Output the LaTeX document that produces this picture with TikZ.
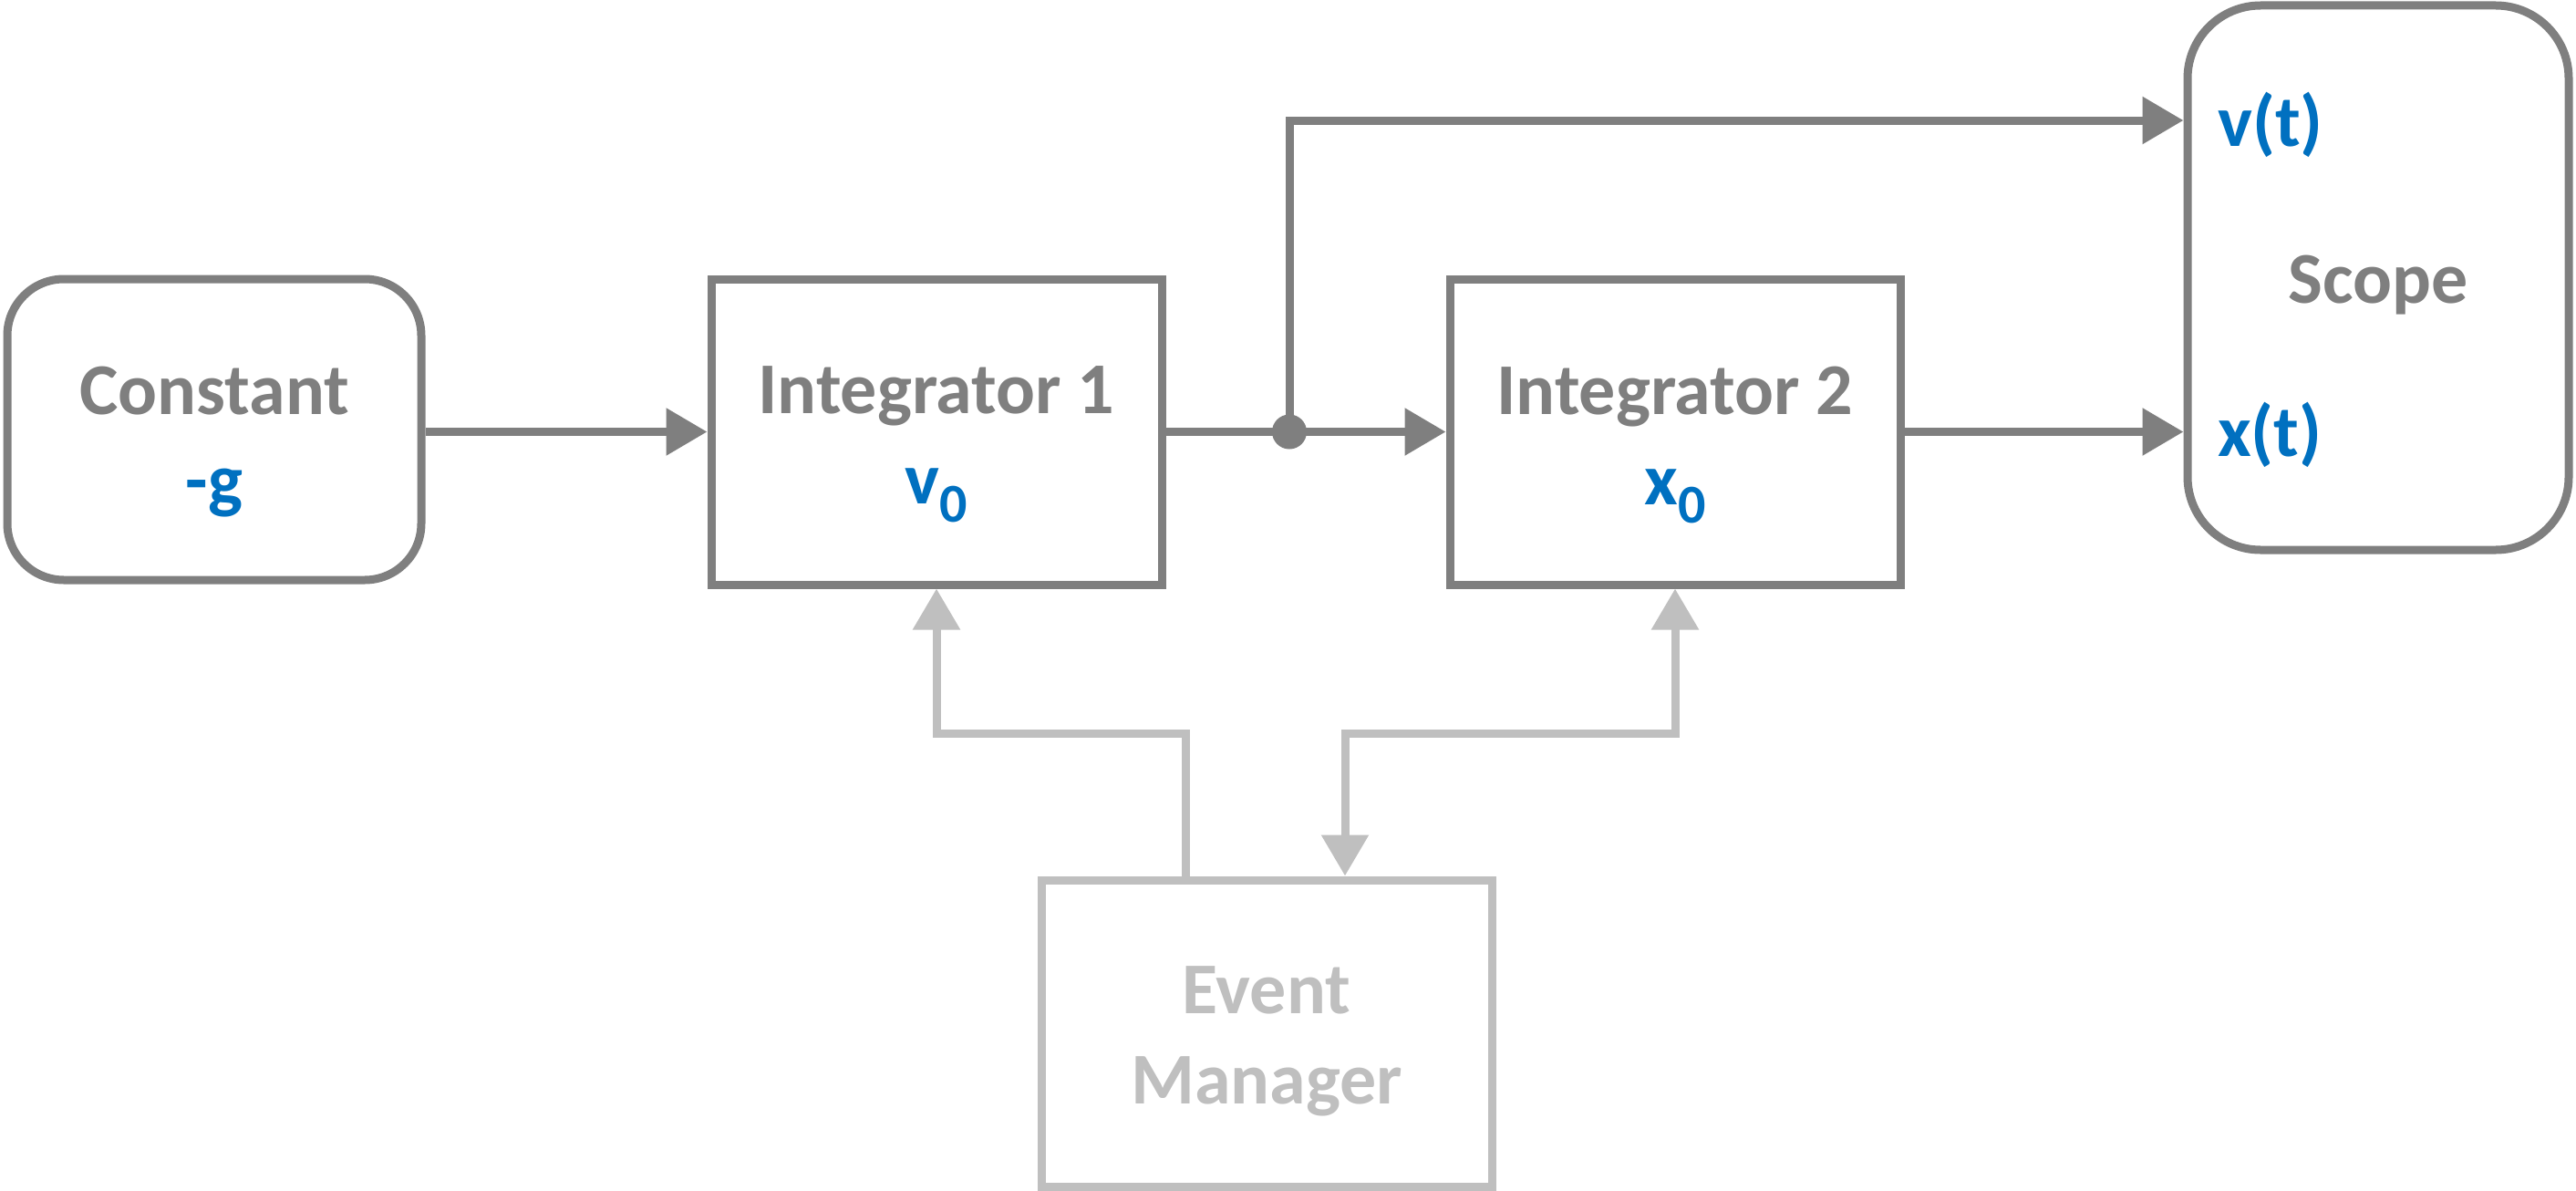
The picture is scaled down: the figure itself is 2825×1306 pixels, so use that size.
\documentclass[tikz,border=0pt]{standalone}
\usepackage{fontspec}
\setmainfont{Carlito}
\usetikzlibrary{arrows.meta}
\definecolor{dgray}{HTML}{7F7F7F}
\definecolor{lgray}{HTML}{BFBFBF}
\definecolor{valblue}{HTML}{0070C0}
\newcommand{\subz}[1]{\raisebox{-20pt}{\fontsize{60}{60}\selectfont #1}}
\begin{document}
\begin{tikzpicture}[x=1pt,y=-1pt,
  txt/.style={font=\fontsize{80}{99}\selectfont\bfseries, align=center, inner sep=0pt},
  blockbox/.style={draw=dgray, line width=9pt, rectangle, inner sep=0pt},
  roundbox/.style={blockbox, rounded corners=#1},
  conn/.style={draw=dgray, line width=9pt},
  evconn/.style={draw=lgray, line width=9pt},
  tip/.style={-{Triangle[length=45pt,width=50pt]}},
  both/.style={{Triangle[length=45pt,width=50pt]}-{Triangle[length=45pt,width=50pt]}},
  lbl/.style={font=\fontsize{80}{99}\selectfont\bfseries, text=valblue, inner sep=0pt, anchor=base west}
]
\useasboundingbox (0,0) rectangle (2825,1306);

\node[roundbox=62pt, minimum width=454pt, minimum height=330pt] (const) at (235,471) {};
\node[blockbox, minimum width=494pt, minimum height=335pt] (int1) at (1027,473.5) {};
\node[blockbox, minimum width=494pt, minimum height=335pt] (int2) at (1837,473.5) {};
\node[roundbox=80pt, minimum width=418pt, minimum height=597pt] (scope) at (2608,304.5) {};
\node[blockbox, draw=lgray, minimum width=494pt, minimum height=336pt] (em) at (1389,1133) {};

\node[txt, text=dgray] (constt) at ([yshift=-14pt]const.center) {Constant\\\textcolor{valblue}{-g}};
\node[txt, text=dgray] (int1t) at ([yshift=-14pt]int1.center) {Integrator 1\\\textcolor{valblue}{v\subz{0}}};
\node[txt, text=dgray] (int2t) at ([yshift=-14pt]int2.center) {Integrator 2\\\textcolor{valblue}{x\subz{0}}};
\node[txt, text=dgray] (scopet) at ([yshift=-8pt]scope.center) {Scope};
\node[txt, text=lgray] (emt) at ([yshift=-9pt]em.center) {Event\\Manager};

\node[lbl] (vt) at (2432,160) {v(t)};
\node[lbl] (xt) at (2432,500) {x(t)};

\node[circle, fill=dgray, inner sep=0pt, minimum size=38pt] (j) at (1414,473.5) {};

\coordinate (vrow) at (2000,132);
\coordinate (evL) at (1300,804);
\coordinate (evR) at (1475,804);

\draw[conn, tip] (const.east |- int1.west) -- (int1.west);
\draw[conn, tip] (int1.east) -- (int2.west);
\draw[conn, tip] (j.center) |- (scope.west |- vrow);
\draw[conn, tip] (int2.east) -- (int2.east -| scope.west);

\draw[evconn, tip] (em.north -| evL) -- (evL) -| (int1.south);
\draw[evconn, both] (int2.south) |- (evR) -- (em.north -| evR);
\end{tikzpicture}
\end{document}
